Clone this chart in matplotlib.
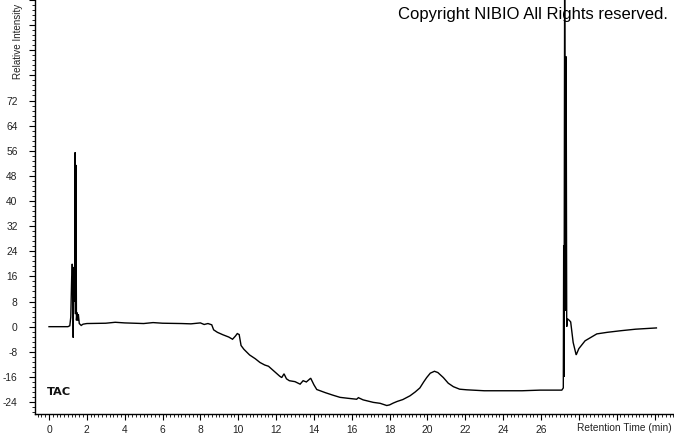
import matplotlib
matplotlib.use("Agg")
import matplotlib.pyplot as plt
from matplotlib.ticker import MultipleLocator, FuncFormatter

# Retention time (min) and relative intensity
time_min = [0.0, 1.0, 1.1, 1.15, 1.2, 1.23, 1.26, 1.28, 1.3, 1.33, 1.36, 1.38, 1.40, 1.42,
            1.45, 1.48, 1.52, 1.55, 1.6, 1.7, 1.8, 2.0, 3.0, 3.5, 4.0, 5.0, 5.5, 6.0,
            7.0, 7.5, 8.0, 8.2, 8.4, 8.6, 8.7, 8.9, 9.2, 9.5, 9.7, 9.85, 9.95, 10.05,
            10.15, 10.3, 10.6, 10.9, 11.15, 11.4, 11.6, 11.9, 12.2, 12.3, 12.42, 12.55,
            12.7, 13.0, 13.27, 13.43, 13.6, 13.83, 14.0, 14.15, 14.6, 15.0, 15.38, 15.8,
            16.26, 16.35, 16.6, 17.14, 17.5, 17.85, 18.0, 18.2, 18.4, 18.7, 19.08, 19.35,
            19.6, 19.8, 19.96, 20.15, 20.37, 20.55, 20.84, 21.1, 21.37, 21.7, 22.08, 23.0,
            24.0, 25.0, 25.95, 27.1, 27.18, 27.2, 27.22, 27.25, 27.3, 27.33, 27.36, 27.4,
            27.5, 27.57, 27.7, 27.86, 28.0, 28.33, 28.95, 29.5, 30.2, 31.0, 32.1]
intensity = [0.0, 0.0, 0.3, 3.0, 16.0, 20.0, 15.0, -3.5, 19.0, 18.0, 8.0, 55.5, 4.0, 51.5,
             2.0, 4.5, 2.0, 4.0, 1.0, 0.4, 0.8, 1.0, 1.1, 1.4, 1.2, 1.0, 1.3, 1.1,
             1.0, 0.9, 1.2, 0.7, 1.0, 0.6, -1.0, -1.8, -2.6, -3.3, -4.0, -3.0, -2.2, -2.5,
             -6.0, -7.2, -9.0, -10.2, -11.4, -12.2, -12.6, -14.2, -15.8, -16.2, -15.0, -16.6,
             -17.2, -17.5, -18.3, -17.2, -17.6, -16.4, -18.5, -20.0, -21.0, -21.8, -22.5, -22.8,
             -23.1, -22.6, -23.3, -24.1, -24.4, -25.1, -24.9, -24.3, -23.8, -23.2, -22.0, -20.8,
             -19.5, -17.6, -16.2, -14.8, -14.2, -14.6, -16.2, -18.0, -19.1, -19.9, -20.1, -20.4,
             -20.4, -20.4, -20.2, -20.2, -19.5, 26.0, -16.0, 110.0, 5.0, 86.0, 0.0, 2.5,
             2.0, 1.5, -5.0, -9.0, -7.0, -4.5, -2.3, -1.8, -1.3, -0.8, -0.4]

y_ticks = list(range(-24, 105, 8))
x_ticks = list(range(0, 34, 2))

W, H = 674, 434
fig = plt.figure(figsize=(W / 100, H / 100), dpi=100)
ax = fig.add_axes([35 / W, 20 / H, (W - 35) / W, 414 / H])

ax.plot(time_min, intensity, color="black", lw=1.0, solid_joinstyle="miter")

ax.set_xlim(-0.74, 33.03)
ax.set_ylim(-27.8, 104.0)

ax.spines["top"].set_visible(False)
ax.spines["right"].set_visible(False)
for s in ("left", "bottom"):
    ax.spines[s].set_linewidth(1.0)
    ax.spines[s].set_color("black")

ax.set_yticks(y_ticks)
ax.set_xticks(x_ticks)
ax.yaxis.set_minor_locator(MultipleLocator(1.6))
ax.xaxis.set_minor_locator(MultipleLocator(0.2))
ax.yaxis.set_major_formatter(FuncFormatter(lambda v, p: f"{int(round(v))}" if v <= 72 else ""))
ax.xaxis.set_major_formatter(FuncFormatter(lambda v, p: f"{int(round(v))}" if v <= 26 else ""))

font = "Liberation Sans"
ax.tick_params(axis="both", which="major", direction="out", length=4, width=0.8,
               labelsize=7.4, labelcolor="#222222")
ax.tick_params(axis="both", which="minor", direction="out", length=2.5, width=0.6)
ax.tick_params(axis="y", which="major", pad=8.5)
ax.tick_params(axis="x", which="major", pad=4)
for lbl in ax.get_xticklabels() + ax.get_yticklabels():
    lbl.set_family(font)

fig.text(668 / W, 1 - 14 / H, "Copyright NIBIO All Rights reserved.", family=font,
         fontsize=12, ha="right", va="center", color="black")
fig.text(47 / W, 1 - 392 / H, "TAC", family="DejaVu Sans", fontweight="bold",
         fontsize=8.2, ha="left", va="center", color="#111111")
fig.text(18 / W, 1 - 79 / H, "Relative Intensity", family=font, fontsize=7.1,
         rotation=90, ha="center", va="bottom", color="#222222")
fig.text(577 / W, 1 - 428 / H, "Retention Time (min)", family=font, fontsize=7.3,
         ha="left", va="center", color="#222222")

fig.savefig("out.png", dpi=100)
